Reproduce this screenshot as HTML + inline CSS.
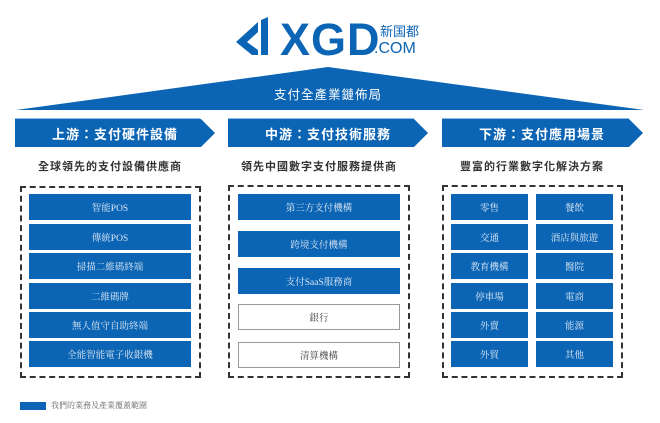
<!DOCTYPE html>
<html><head><meta charset="utf-8"><style>
body{margin:0;width:660px;height:423px;background:#fff;position:relative;overflow:hidden;font-family:"Liberation Sans","Noto Sans CJK TC",sans-serif}
.a{position:absolute}
.it{position:absolute;background:#0b64b4;color:#dfe9f5;font-family:"Liberation Serif","Noto Serif CJK SC",serif;font-size:9.5px;display:flex;align-items:center;justify-content:center;height:26px}
.w{background:#fff;border:1px solid #999;color:#444;box-sizing:border-box}
.dash{position:absolute;border:2px dashed #333;box-sizing:border-box}
.sub{position:absolute;font-size:11px;font-weight:bold;color:#333;letter-spacing:1px;text-align:center;width:200px}
.hd{position:absolute;color:#fff;font-size:13px;font-weight:bold;letter-spacing:1px;display:flex;align-items:center;padding-left:0}
</style></head><body>
<svg class="a" style="left:0;top:0" width="660" height="423">
<g fill="#0b64b4">
<polygon points="258,22 258,32 247,42 258,50 258,55 252,55 236,42"/>
<polygon points="261,20 268,17 268,55 261,55"/>
<polygon points="328,67 644,110 16,110"/>
<polygon points="15,119 201,119 215,133 201,147 15,147"/>
<polygon points="228,119 414,119 428,133 414,147 228,147"/>
<polygon points="442,119 629,119 643,133 629,147 442,147"/>
</g>
<line x1="15" y1="118.5" x2="200" y2="118.5" stroke="#8fbbe3" stroke-width="1"/>
<line x1="228" y1="118.5" x2="414" y2="118.5" stroke="#8fbbe3" stroke-width="1"/>
<line x1="442" y1="118.5" x2="629" y2="118.5" stroke="#8fbbe3" stroke-width="1"/>
<text x="280" y="55" font-family="Liberation Sans" font-size="45" font-weight="bold" fill="#0b64b4" letter-spacing="1">XGD</text>
<text x="380" y="36" font-family="Noto Sans CJK TC" font-size="13" fill="#0b64b4">新国都</text>
<text x="374" y="53" font-family="Liberation Sans" font-size="16" fill="#0b64b4">.COM</text>
<text x="328" y="99" text-anchor="middle" font-family="Noto Sans CJK TC" font-size="12.5" fill="#fff" letter-spacing="1">支付全產業鏈佈局</text>
</svg>
<div class="hd" style="left:15px;top:119px;width:200px;height:28px;justify-content:center">上游：支付硬件設備</div>
<div class="hd" style="left:228px;top:119px;width:200px;height:28px;justify-content:center">中游：支付技術服務</div>
<div class="hd" style="left:442px;top:119px;width:200px;height:28px;justify-content:center">下游：支付應用場景</div>
<div class="sub" style="left:10px;top:158px">全球領先的支付設備供應商</div>
<div class="sub" style="left:219px;top:158px">領先中國數字支付服務提供商</div>
<div class="sub" style="left:432px;top:158px">豐富的行業數字化解決方案</div>
<div class="dash" style="left:20px;top:186px;width:181px;height:192px"></div>
<div class="dash" style="left:228px;top:185px;width:182px;height:193px"></div>
<div class="dash" style="left:442px;top:185px;width:181px;height:193px"></div>
<div class="it" style="left:29px;top:194px;width:162px">智能POS</div>
<div class="it" style="left:29px;top:224px;width:162px">傳統POS</div>
<div class="it" style="left:29px;top:253px;width:162px">掃描二維碼終端</div>
<div class="it" style="left:29px;top:283px;width:162px">二維碼牌</div>
<div class="it" style="left:29px;top:312px;width:162px">無人值守自助終端</div>
<div class="it" style="left:29px;top:341px;width:162px">全能智能電子收銀機</div>
<div class="it" style="left:238px;top:194px;width:162px">第三方支付機構</div>
<div class="it" style="left:238px;top:231px;width:162px">跨境支付機構</div>
<div class="it" style="left:238px;top:268px;width:162px">支付SaaS服務商</div>
<div class="it w" style="left:238px;top:304px;width:162px">銀行</div>
<div class="it w" style="left:238px;top:342px;width:162px">清算機構</div>
<div class="it" style="left:451px;top:194px;width:77px">零售</div>
<div class="it" style="left:451px;top:224px;width:77px">交通</div>
<div class="it" style="left:451px;top:253px;width:77px">教育機構</div>
<div class="it" style="left:451px;top:283px;width:77px">停車場</div>
<div class="it" style="left:451px;top:312px;width:77px">外賣</div>
<div class="it" style="left:451px;top:341px;width:77px">外貿</div>
<div class="it" style="left:536px;top:194px;width:77px">餐飲</div>
<div class="it" style="left:536px;top:224px;width:77px">酒店與旅遊</div>
<div class="it" style="left:536px;top:253px;width:77px">醫院</div>
<div class="it" style="left:536px;top:283px;width:77px">電商</div>
<div class="it" style="left:536px;top:312px;width:77px">能源</div>
<div class="it" style="left:536px;top:341px;width:77px">其他</div>
<div class="a" style="left:20px;top:402px;width:26px;height:8px;background:#0b64b4"></div>
<div class="a" style="left:51px;top:400px;font-size:8px;color:#666;font-family:'Noto Serif CJK SC',serif">我們的業務及產業覆蓋範圍</div>
</body></html>
